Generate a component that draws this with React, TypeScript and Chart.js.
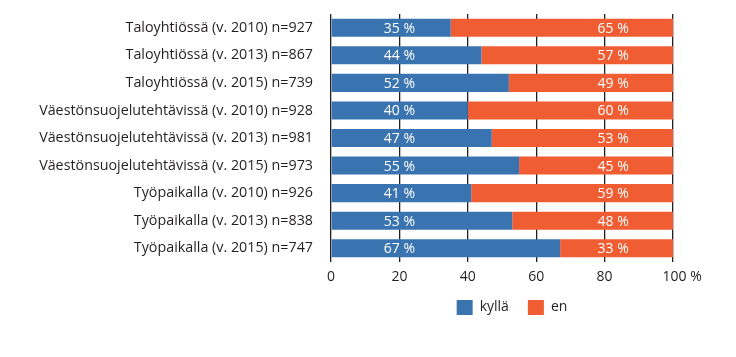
import React, { useEffect, useRef } from "react";
import { Chart, registerables } from "chart.js";

Chart.register(...registerables);

const categories = [
  "Taloyhtiössä (v. 2010) n=927",
  "Taloyhtiössä (v. 2013) n=867",
  "Taloyhtiössä (v. 2015) n=739",
  "Väestönsuojelutehtävissä (v. 2010) n=928",
  "Väestönsuojelutehtävissä (v. 2013) n=981",
  "Väestönsuojelutehtävissä (v. 2015) n=973",
  "Työpaikalla (v. 2010) n=926",
  "Työpaikalla (v. 2013) n=838",
  "Työpaikalla (v. 2015) n=747",
];
const kylla = [35, 44, 52, 40, 47, 55, 41, 53, 67];
const en = [65, 57, 49, 60, 53, 45, 59, 48, 33];
const seriesNames = ["kyllä", "en"];
const xTicks = [0, 20, 40, 60, 80, 100];

const BLUE = "#3a74b0";
const ORANGE = "#f15d33";
const TEXT = "#231f20";
const FONT = "'Open Sans', 'Noto Sans', sans-serif";
const LABEL_POS = [20, 82.5];
const LEGEND_SHIFT = 10;

const barLabels = {
  id: "barLabels",
  afterLayout(chart: any) {
    if (chart.legend) {
      chart.legend.left += LEGEND_SHIFT;
      chart.legend.right += LEGEND_SHIFT;
    }
  },
  afterDatasetsDraw(chart: any) {
    const ctx = chart.ctx;
    const xs = chart.scales.x;
    ctx.save();
    ctx.fillStyle = "#ffffff";
    ctx.font = `14px ${FONT}`;
    ctx.textAlign = "center";
    ctx.textBaseline = "middle";
    chart.data.datasets.forEach((ds: any, di: number) => {
      const meta = chart.getDatasetMeta(di);
      const x = xs.getPixelForValue(LABEL_POS[di]);
      meta.data.forEach((el: any, i: number) => {
        ctx.fillText(`${ds.data[i]} %`, x, el.y + 1);
      });
    });
    ctx.restore();
  },
};

export default function App() {
  const ref = useRef<HTMLCanvasElement | null>(null);
  useEffect(() => {
    if (!ref.current) return;
    const chart = new Chart(ref.current, {
      type: "bar",
      data: {
        labels: categories,
        datasets: [
          { label: seriesNames[0], data: kylla, backgroundColor: BLUE, borderWidth: 0, barPercentage: 0.655, categoryPercentage: 1 },
          { label: seriesNames[1], data: en, backgroundColor: ORANGE, borderWidth: 0, barPercentage: 0.655, categoryPercentage: 1 },
        ],
      },
      plugins: [barLabels],
      options: {
        indexAxis: "y",
        animation: false,
        responsive: false,
        layout: { padding: { left: 0, right: 63, top: 14, bottom: 32 } },
        scales: {
          x: {
            stacked: true,
            min: 0,
            max: 100,
            afterBuildTicks: (s: any) => {
              s.ticks = xTicks.map((v) => ({ value: v }));
            },
            afterFit: (s: any) => {
              s.height = 19;
              s.paddingLeft = 0;
              s.paddingRight = 0;
            },
            border: { display: false },
            grid: { color: TEXT, lineWidth: 1.3, drawTicks: false },
            ticks: {
              color: TEXT,
              font: { family: FONT, size: 14 },
              padding: 7,
              maxRotation: 0,
              callback: (v: any) => (Number(v) === 100 ? "\u00a0\u00a0\u00a0\u00a0\u00a0100 %" : String(v)),
            },
          },
          y: {
            stacked: true,
            afterFit: (s: any) => {
              s.width = 331;
              s.paddingTop = 0;
              s.paddingBottom = 0;
            },
            border: { display: false },
            grid: { display: false, drawTicks: false },
            ticks: {
              color: TEXT,
              font: { family: FONT, size: 14.3 },
              padding: 18,
            },
          },
        },
        plugins: {
          legend: {
            position: "bottom",
            fullSize: false,
            labels: {
              color: TEXT,
              font: { family: FONT, size: 14 },
              boxWidth: 16,
              boxHeight: 15,
              padding: 19,
            },
          },
          tooltip: { enabled: false },
        },
      },
    });
    return () => chart.destroy();
  }, []);
  return (
    <div style={{ position: "absolute", left: 0, top: 0, width: 736, height: 357, background: "#fff" }}>
      <canvas ref={ref} width={736} height={357} />
    </div>
  );
}
